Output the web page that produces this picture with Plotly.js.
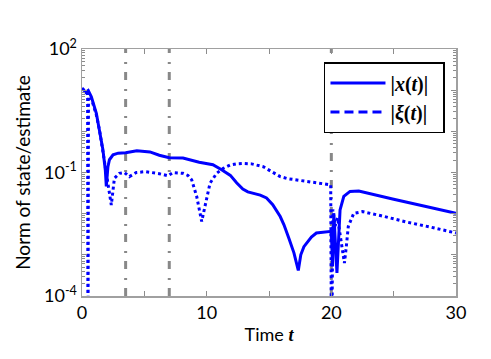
<!DOCTYPE html>
<html>
<head>
<meta charset="utf-8">
<script src="https://cdn.plot.ly/plotly-3.0.1.min.js"></script>
<style>html,body{margin:0;padding:0;background:#fff;}#chart{width:491px;height:359px;}</style>
</head>
<body>
<div id="chart"></div>
<script>
// Time samples and values
var tX = [0, 0.3, 0.5, 0.75, 1.15, 1.42, 1.68, 1.87, 1.95, 2.08, 2.2, 2.49, 2.9, 3.5, 4.4, 5.45, 6.2, 7.0, 8.1, 9.4, 10.5, 11.2, 11.9, 12.4, 12.9, 13.3, 13.7, 14.3, 14.8, 15.3, 15.9, 16.2, 16.6, 17.0, 17.35, 17.55, 17.8, 18.0, 18.4, 18.8, 19.5, 20.0, 20.1, 20.2, 20.45, 20.7, 21.0, 21.5, 22.2, 23.1, 25, 27.5, 30];
var normX = [11.2, 8.9, 9.8, 6.9, 2.75, 1.07, 0.355, 0.115, 0.0457, 0.138, 0.204, 0.269, 0.295, 0.302, 0.339, 0.316, 0.263, 0.229, 0.224, 0.178, 0.155, 0.117, 0.0851, 0.0562, 0.0398, 0.0339, 0.0316, 0.0282, 0.024, 0.0166, 0.0085, 0.00537, 0.0025, 0.00112, 0.000417, 0.001, 0.00158, 0.0019, 0.0027, 0.00339, 0.00363, 0.00372, 0.000525, 0.0102, 0.000363, 0.0123, 0.0263, 0.0347, 0.0355, 0.0302, 0.0224, 0.0151, 0.0102];

var tXi = [0, 0.3, 0.45, 0.48, 0.52, 0.75, 1.15, 1.42, 1.7, 2.0, 2.2, 2.35, 2.5, 2.6, 3.0, 3.4, 3.8, 4.36, 5.1, 5.45, 6.2, 6.9, 7.3, 8.1, 8.5, 8.8, 9.2, 9.6, 9.86, 10.27, 10.8, 11.33, 11.87, 12.4, 12.94, 13.6, 14.54, 15.2, 15.9, 16.5, 17.2, 18.5, 19.95, 20.02, 20.12, 20.3, 20.5, 20.75, 21.05, 21.2, 21.36, 21.8, 22.5, 24, 26, 28, 30];
var normXi = [11.2, 8.9, 7.94, 0.000001, 7.08, 6.31, 2.51, 1.0, 0.316, 0.0891, 0.0316, 0.0162, 0.0398, 0.0724, 0.0955, 0.1, 0.0794, 0.1, 0.105, 0.102, 0.0933, 0.0832, 0.1, 0.0955, 0.085, 0.0661, 0.0263, 0.00646, 0.0148, 0.055, 0.0955, 0.126, 0.151, 0.162, 0.166, 0.162, 0.138, 0.105, 0.0794, 0.0708, 0.0661, 0.0562, 0.0501, 0.000001, 0.0126, 0.005, 0.00794, 0.00251, 0.00063, 0.00158, 0.0049, 0.0102, 0.0112, 0.0089, 0.0063, 0.00468, 0.00339];

// Switching instants (vertical dash-dot lines)
var switchTimes = [3.5, 7.0, 20.0];

var xTickVals = [0, 5, 10, 15, 20, 25, 30];
var xTickText = ['0', '', '10', '', '20', '', '30'];
var yTickVals = [1e-4, 1e-3, 1e-2, 1e-1, 1, 10, 100];
var yTickText = ['10<sup>-4</sup>', '', '', '10<sup>-1</sup>', '', '', '10<sup>2</sup>'];

var blue = 'rgb(0,0,255)';
var legX = '<b>|<i>x</i>(<i>t</i>)|</b>&nbsp;&nbsp;';
var legXi = '<b>|<i>ξ</i>(<i>t</i>)|</b>&nbsp;&nbsp;';

var traces = [
  {x: tX, y: normX, type: 'scatter', mode: 'lines', line: {color: blue, width: 3}, showlegend: false, hoverinfo: 'skip'},
  {x: tXi, y: normXi, type: 'scatter', mode: 'lines', line: {color: blue, width: 3, dash: 'dot'}, showlegend: false, hoverinfo: 'skip'},
  {x: [null], y: [null], type: 'scatter', mode: 'lines', name: legX, line: {color: blue, width: 3}},
  {x: [null], y: [null], type: 'scatter', mode: 'lines', name: legXi, line: {color: blue, width: 3, dash: '9px,5px'}}
];

var shapes = switchTimes.map(function (s) {
  return {type: 'line', xref: 'x', yref: 'paper', x0: s, x1: s, y0: 0, y1: 1,
          line: {color: 'rgb(136,136,136)', width: 3, dash: '8px,8px,2px,9px'}, layer: 'below'};
});

var axisCommon = {
  showgrid: false, zeroline: false, showline: true, linecolor: 'rgb(160,160,160)', linewidth: 1.5,
  mirror: 'ticks', ticks: 'inside', ticklen: 5, tickcolor: 'rgb(140,140,140)', tickwidth: 1,
  tickfont: {family: 'Lato, sans-serif', size: 18, color: '#000'}
};

var layout = {
  width: 491, height: 359,
  margin: {l: 82, r: 35, t: 49, b: 63},
  paper_bgcolor: '#fff', plot_bgcolor: '#fff',
  showlegend: true,
  xaxis: Object.assign({}, axisCommon, {
    range: [0, 30], tickmode: 'array', tickvals: xTickVals, ticktext: xTickText,
    title: {text: 'Time <span style="font-family:\'Liberation Serif\'"><b><i>t</i></b></span>', font: {family: 'Lato, sans-serif', size: 18, color: '#000'}, standoff: 6}
  }),
  yaxis: Object.assign({}, axisCommon, {
    type: 'log', range: [-4, 2], tickmode: 'array', tickvals: yTickVals, ticktext: yTickText,
    minor: {dtick: 'D1', ticks: 'inside', ticklen: 3, tickcolor: 'rgb(140,140,140)', showgrid: false},
    title: {text: 'Norm of state/estimate', font: {family: 'Lato, sans-serif', size: 19, color: '#000'}, standoff: 8}
  }),
  legend: {
    x: 0.647, y: 0.947, xanchor: 'left', yanchor: 'top',
    bgcolor: '#fff', bordercolor: '#000', borderwidth: 1.5,
    font: {family: 'Liberation Serif, serif', size: 20, color: '#000'},
    itemwidth: 55
  },
  shapes: shapes
};

Plotly.newPlot('chart', traces, layout, {staticPlot: true, displayModeBar: false});
</script>
</body>
</html>
